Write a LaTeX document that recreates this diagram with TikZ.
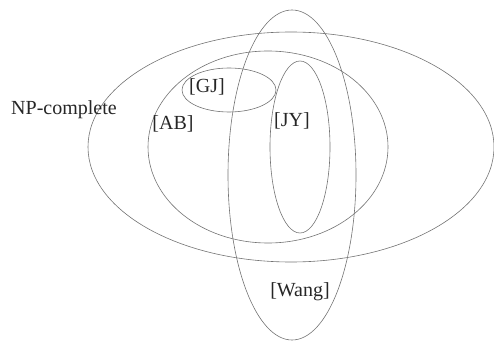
\documentclass[tikz,border=0pt]{standalone}
\usepackage{fontspec}
\setmainfont{Liberation Serif}
\usepackage{tikz}

\tikzset{
  setline/.style={draw=black!55, line width=0.6pt},
  setlabel/.style={text=black!85, inner sep=0pt, font=\fontsize{20}{24}\selectfont}
}

\begin{document}
\begin{tikzpicture}[x=1pt, y=1pt]
  \useasboundingbox (0,0) rectangle (494,340);
  \clip (0,0) rectangle (494,340);

  \draw[setline] (291,193) ellipse [x radius=203pt, y radius=115pt];
  \draw[setline] (268,193) ellipse [x radius=120pt, y radius=96pt];
  \draw[setline] (292,165) ellipse [x radius=64pt, y radius=165pt];
  \draw[setline] (300,193) ellipse [x radius=30pt, y radius=86pt];
  \draw[setline] (229,250) ellipse [x radius=47pt, y radius=22pt];

  \node[setlabel] (np) at (64,230) {NP-complete};
  \node[setlabel] (gj) at (207,253) {[GJ]};
  \node[setlabel] (ab) at (173,216) {[AB]};
  \node[setlabel] (jy) at (292,219) {[JY]};
  \node[setlabel] (wang) at (300,48) {[Wang]};
\end{tikzpicture}
\end{document}
